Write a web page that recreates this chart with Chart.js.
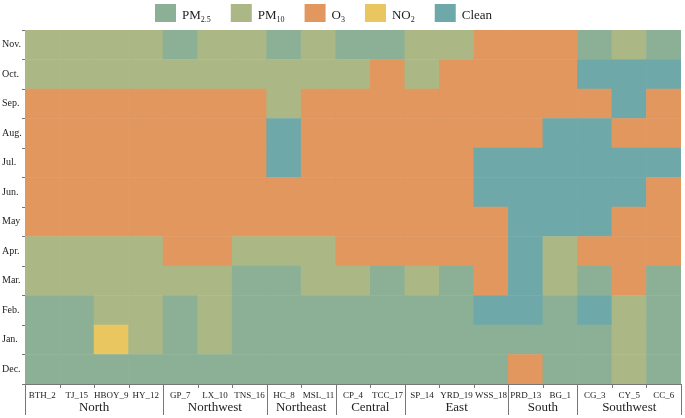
<!DOCTYPE html>
<html lang="en">
<head>
    <meta charset="UTF-8">
    <title>Dominant pollutant by month</title>
    <script src="https://cdn.jsdelivr.net/npm/chart.js@4.4.0/dist/chart.umd.min.js"></script>
    <style>
        html, body { margin: 0; padding: 0; background: #ffffff; }
        #wrap { width: 685px; height: 418px; }
    </style>
</head>
<body>
<div id="wrap"><canvas id="heatChart"></canvas></div>
<script>

    // sites in column order, and the region each one belongs to
    const sites  = ['BTH_2', 'TJ_15', 'HBOY_9', 'HY_12', 'GP_7', 'LX_10', 'TNS_16', 'HC_8', 'MSL_11',
                    'CP_4', 'TCC_17', 'SP_14', 'YRD_19', 'WSS_18', 'PRD_13', 'BG_1', 'CG_3', 'CY_5', 'CC_6'];
    const groups     = ['North', 'Northwest', 'Northeast', 'Central', 'East', 'South', 'Southwest'];
    const groupSizes = [4, 3, 2, 2, 3, 2, 3];

    // months as shown on the y axis, top to bottom
    const months = ['Nov.', 'Oct.', 'Sep.', 'Aug.', 'Jul.', 'Jun.', 'May', 'Apr.', 'Mar.', 'Feb.', 'Jan.', 'Dec.'];

    // P = PM2.5, M = PM10, O = O3, N = NO2, C = Clean
    const nov = ['M','M','M','M','P','M','M','P','M','P','P','M','M','O','O','O','P','M','P'];
    const oct = ['M','M','M','M','M','M','M','M','M','M','O','M','O','O','O','O','C','C','C'];
    const sep = ['O','O','O','O','O','O','O','M','O','O','O','O','O','O','O','O','O','C','O'];
    const aug = ['O','O','O','O','O','O','O','C','O','O','O','O','O','O','O','C','C','O','O'];
    const jul = ['O','O','O','O','O','O','O','C','O','O','O','O','O','C','C','C','C','C','C'];
    const jun = ['O','O','O','O','O','O','O','O','O','O','O','O','O','C','C','C','C','C','O'];
    const may = ['O','O','O','O','O','O','O','O','O','O','O','O','O','O','C','C','C','O','O'];
    const apr = ['M','M','M','M','O','O','M','M','M','O','O','O','O','O','C','M','O','O','O'];
    const mar = ['M','M','M','M','M','M','P','P','M','M','P','M','P','O','C','M','P','O','P'];
    const feb = ['P','P','M','M','P','M','P','P','P','P','P','P','P','C','C','P','C','M','P'];
    const jan = ['P','P','N','M','P','M','P','P','P','P','P','P','P','P','P','P','P','M','P'];
    const dec = ['P','P','P','P','P','P','P','P','P','P','P','P','P','P','O','P','P','M','P'];

    const monthRows = [nov, oct, sep, aug, jul, jun, may, apr, mar, feb, jan, dec];

    const legendCodes = ['P', 'M', 'O', 'N', 'C'];
    const legendMain  = ['PM', 'PM', 'O', 'NO', 'Clean'];
    const legendSub   = ['2.5', '10', '3', '2', ''];

    const colors = {
        P: '#8cb096',
        M: '#abb886',
        O: '#e2975f',
        N: '#e9c65f',
        C: '#6fa8a9'
    };

    const serif = '"Liberation Serif", "DejaVu Serif", serif';

    // stack from the bottom row (Dec.) up to the top row (Nov.)
    let datasets = [];
    for ( let r = monthRows.length - 1; r >= 0; r-- ) {
        const row = monthRows[r];
        datasets.push({
            label: months[r],
            data: sites.map(() => 1),
            backgroundColor: row.map(code => colors[code]),
            borderWidth: 0,
            barPercentage: 1.0,
            categoryPercentage: 1.0,
            yAxisID: 'y'
        });
    }

    // legend with subscripts, drawn above the chart area
    const legendPlugin = {
        id: 'subLegend',
        afterDraw(chart) {
            const ctx = chart.ctx;
            let x = 155;
            ctx.save();
            for ( let i = 0; i < legendCodes.length; i++ ) {
                ctx.fillStyle = colors[legendCodes[i]];
                ctx.fillRect(x, 4, 21, 18);
                x += 27;
                ctx.fillStyle = '#222';
                ctx.textBaseline = 'alphabetic';
                ctx.textAlign = 'left';
                ctx.font = '13px ' + serif;
                ctx.fillText(legendMain[i], x, 18.5);
                x += ctx.measureText(legendMain[i]).width;
                if ( legendSub[i] !== '' ) {
                    ctx.font = '8px ' + serif;
                    ctx.fillText(legendSub[i], x, 21.5);
                    x += ctx.measureText(legendSub[i]).width;
                }
                x += 20;
            }
            ctx.restore();
        }
    };

    // region brackets under the site labels
    const groupPlugin = {
        id: 'groupAxis',
        afterDraw(chart) {
            const ctx = chart.ctx;
            const area = chart.chartArea;
            const colW = (area.right - area.left) / sites.length;
            const bottom = area.bottom;
            ctx.save();
            ctx.strokeStyle = '#777';
            ctx.lineWidth = 1;
            ctx.beginPath();
            ctx.moveTo(area.left, bottom + 0.5);
            ctx.lineTo(area.right, bottom + 0.5);
            ctx.stroke();

            let boundaries = [0];
            let acc = 0;
            for ( let g = 0; g < groupSizes.length; g++ ) {
                acc += groupSizes[g];
                boundaries.push(acc);
            }

            for ( let i = 0; i <= sites.length; i++ ) {
                const px = Math.round(area.left + i * colW) + 0.5;
                const long = boundaries.includes(i);
                ctx.beginPath();
                ctx.moveTo(px, bottom);
                ctx.lineTo(px, long ? bottom + 31 : bottom + 4);
                ctx.stroke();
            }

            ctx.fillStyle = '#222';
            ctx.font = '13px ' + serif;
            ctx.textAlign = 'center';
            ctx.textBaseline = 'middle';
            for ( let g = 0; g < groups.length; g++ ) {
                const mid = area.left + (boundaries[g] + boundaries[g + 1]) / 2 * colW;
                ctx.fillText(groups[g], mid, bottom + 24);
            }
            ctx.restore();
        }
    };

    const ctx = document.getElementById('heatChart').getContext('2d');
    const heatChart = new Chart(ctx, {
        type: 'bar',
        data: {
            labels: sites,
            datasets: datasets
        },
        options: {
            responsive: true,
            maintainAspectRatio: false,
            animation: false,
            layout: {
                padding: { top: 30, right: 4, left: 2, bottom: 0 }
            },
            plugins: {
                legend: { display: false },
                tooltip: { enabled: false }
            },
            scales: {
                x: {
                    stacked: true,
                    grid: { display: false, drawTicks: false },
                    border: { display: false },
                    ticks: {
                        autoSkip: false,
                        maxRotation: 0,
                        padding: 6,
                        color: '#222',
                        font: { family: serif, size: 9 }
                    },
                    afterFit(scale) { scale.height = 34; }
                },
                y: {
                    stacked: true,
                    display: false,
                    min: 0,
                    max: 12
                },
                yMonth: {
                    type: 'category',
                    labels: months,
                    position: 'left',
                    offset: true,
                    grid: {
                        display: true,
                        offset: true,
                        drawOnChartArea: false,
                        drawTicks: true,
                        tickLength: 3,
                        color: '#777'
                    },
                    border: { display: false },
                    ticks: {
                        crossAlign: 'far',
                        padding: 2,
                        color: '#222',
                        font: { family: serif, size: 10 }
                    },
                    afterFit(scale) { scale.width = 23; }
                }
            }
        },
        plugins: [legendPlugin, groupPlugin]
    });

</script>
</body>
</html>
